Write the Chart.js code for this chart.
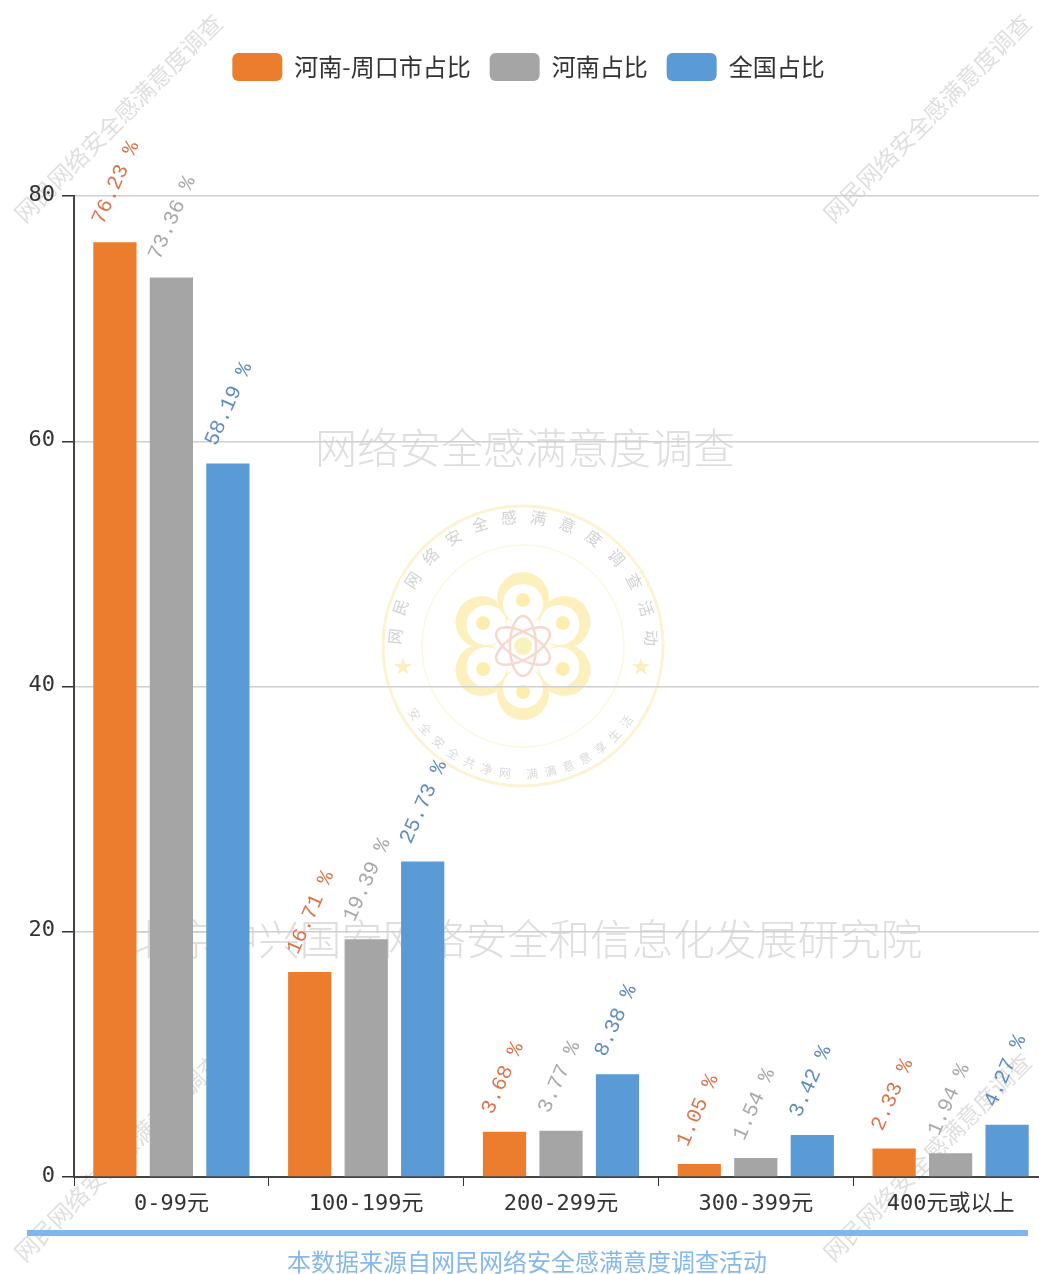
<!DOCTYPE html>
<html lang="zh"><head><meta charset="utf-8">
<style>
html,body{margin:0;padding:0;width:1039px;height:1274px;overflow:hidden;background:#fff}
#stage{position:relative;width:1039px;height:1274px;overflow:hidden;filter:blur(.45px)}
canvas{position:absolute;left:0;top:0;z-index:2}
.wm{position:absolute;white-space:nowrap;font-family:"Noto Sans CJK SC";line-height:1;z-index:1;transform:translate(-50%,-50%)}
.corner{font-size:23.5px;color:#dfdfdf;transform:translate(-50%,-50%) rotate(-45deg)}
.big{font-size:42px;color:#dedede;font-weight:300}
.big2{font-size:41.5px}
#emblem{position:absolute;left:373px;top:496px;z-index:0}
#rule{position:absolute;left:27px;top:1230px;width:1001px;height:6px;background:#7fb7ec;z-index:3}
#src{position:absolute;left:287px;top:1247px;width:480px;text-align:center;font:24px/28px "Noto Sans CJK SC";color:#86b8ea;white-space:nowrap;z-index:3}
</style></head><body>
<div id="stage">
<svg id="emblem" width="300" height="300" viewBox="-150 -150 300 300">
<defs>
<path id="arcT" d="M-118,30 A122,122 0 1 1 118,30"/>
<path id="arcB" d="M-110,52 A121.7,121.7 0 0 0 110,52"/>
</defs>
<circle r="140" fill="none" stroke="#fcf3d3" stroke-width="3"/>
<circle r="101" fill="none" stroke="#fdf7e2" stroke-width="1.5"/>
<g id="petals" fill="#fdf0bf"></g>
<g id="inner" fill="#fff"></g>
<g id="dots" fill="#fdeeb0"></g>
<circle r="27" fill="#fff"/>
<g fill="none" stroke="#f6d8cf" stroke-width="2.5">
<ellipse rx="30" ry="13" transform="rotate(90)"/><ellipse rx="30" ry="13" transform="rotate(30)"/><ellipse rx="30" ry="13" transform="rotate(150)"/>
</g>
<circle r="9" fill="#f8f2bd"/>
<text x="-120" y="27" font-size="20" fill="#fbeec0" text-anchor="middle">★</text>
<text x="118" y="27" font-size="20" fill="#fbeec0" text-anchor="middle">★</text>
<text font-family="Noto Sans CJK SC" font-size="16" fill="#d2d2d2" letter-spacing="12.3"><textPath href="#arcT" startOffset="7%">网民网络安全感满意度调查活动</textPath></text>
<text font-family="Noto Sans CJK SC" font-size="12" fill="#dadada" dominant-baseline="hanging" letter-spacing="5.6"><textPath href="#arcB" startOffset="3%">安全安全共净网 满满意意享生活</textPath></text>
</svg>
<div class="wm corner" style="left:118px;top:118px">网民网络安全感满意度调查</div>
<div class="wm corner" style="left:927px;top:118px">网民网络安全感满意度调查</div>
<div class="wm corner" style="left:118px;top:1157px">网民网络安全感满意度调查</div>
<div class="wm corner" style="left:927px;top:1157px">网民网络安全感满意度调查</div>
<div class="wm big" style="left:525px;top:446px">网络安全感满意度调查</div>
<div class="wm big big2" style="left:528px;top:938px">北京中兴国安网络安全和信息化发展研究院</div>
<canvas id="c" width="1048" height="1274"></canvas>
<div id="rule"></div>
<div id="src">本数据来源自网民网络安全感满意度调查活动</div>
</div>
<script src="https://cdn.jsdelivr.net/npm/chart.js@4/dist/chart.umd.min.js"></script>
<script>
const categories = ['0-99元','100-199元','200-299元','300-399元','400元或以上'];
const zhoukou = [76.23,16.71,3.68,1.05,2.33];
const henan = [73.36,19.39,3.77,1.54,1.94];
const national = [58.19,25.73,8.38,3.42,4.27];
const seriesNames = ['河南-周口市占比','河南占比','全国占比'];
const barColors = ['#ed7d2e','#a5a5a5','#5b9bd5'];
const labelColors = ['#d9764e','#a9a9a9','#5f8dc0'];
const yTicks = [0,20,40,60,80];

// decorate emblem
const NS='http://www.w3.org/2000/svg';
function ring(id,n,dist,r){const g=document.getElementById(id);
  for(let i=0;i<n;i++){const a=(i*60-90)*Math.PI/180,c=document.createElementNS(NS,'circle');
    c.setAttribute('cx',dist*Math.cos(a));c.setAttribute('cy',dist*Math.sin(a));c.setAttribute('r',r);g.appendChild(c);}}
ring('petals',6,48,26);ring('inner',6,42,20);ring('dots',6,46,7);

const monoStack='"DejaVu Sans Mono","Noto Sans CJK SC"';
const legendBlock={id:'legendBlock',beforeInit(chart){const f=chart.legend.fit;
  chart.legend.fit=function(){f.call(this);this.height=162;};}};
const valueLabels={id:'valueLabels',afterDatasetsDraw(chart){
  const ctx=chart.ctx;
  chart.data.datasets.forEach((ds,di)=>{
    chart.getDatasetMeta(di).data.forEach((bar,i)=>{
      ctx.save();
      ctx.translate(bar.x-17,bar.y-19);
      ctx.rotate(-66*Math.PI/180);
      ctx.font='21px "Liberation Mono"';
      ctx.fillStyle=labelColors[di];
      ctx.textAlign='left';ctx.textBaseline='middle';
      ctx.fillText(ds.data[i].toFixed(2)+' %',0,0);
      ctx.restore();
    });
  });
}};
new Chart(document.getElementById('c'),{
  type:'bar',
  data:{labels:categories,datasets:[zhoukou,henan,national].map((d,i)=>({
    label:seriesNames[i],data:d,backgroundColor:barColors[i],borderWidth:0,
    categoryPercentage:0.87,barPercentage:0.765}))},
  options:{
    responsive:false,animation:false,
    layout:{padding:{left:9,top:34,right:0,bottom:0}},
    plugins:{
      tooltip:{enabled:false},
      legend:{position:'top',labels:{boxWidth:50,boxHeight:28,padding:19,useBorderRadius:true,borderRadius:6,
        color:'#333',font:{family:'"Noto Sans CJK SC"',size:24}}}
    },
    scales:{
      x:{grid:{drawOnChartArea:false,drawTicks:true,tickLength:9,color:'#333',offset:true},
         border:{color:'#444',width:2},
         afterFit(s){s.height=97;},
         ticks:{color:'#333',padding:5,maxRotation:0,autoSkip:false,font:{family:monoStack,size:22}}},
      y:{min:0,max:80,afterBuildTicks(s){s.ticks=yTicks.map(v=>({value:v}));},
         grid:{color:'#cfcfcf',lineWidth:1.5,tickColor:'#333',tickLength:12},
         border:{color:'#444',width:2},
         afterFit(s){s.width=65;},
         ticks:{color:'#333',padding:7,labelOffset:-1,font:{family:monoStack,size:22}}}
    }
  },
  plugins:[legendBlock,valueLabels]
});
</script>
</body></html>
